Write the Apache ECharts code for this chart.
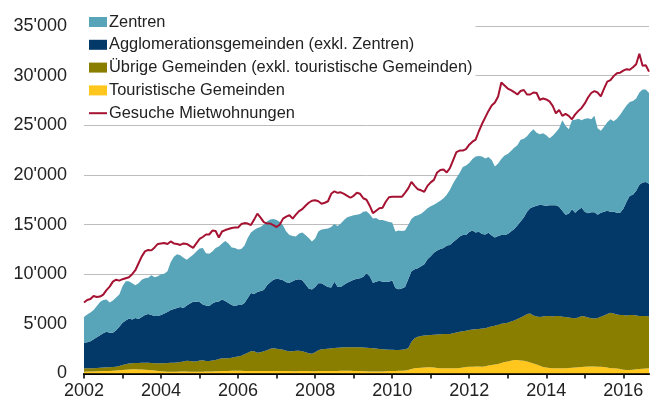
<!DOCTYPE html>
<html>
<head>
<meta charset="utf-8">
<script src="https://cdn.jsdelivr.net/npm/echarts@6/dist/echarts.min.js"></script>
<style>
html,body{margin:0;padding:0;background:#fff;}
#chart{width:650px;height:403px;}
</style>
</head>
<body>
<div id="chart"></div>
<script>
// Monthly data, Jan 2002 - Sep 2016
var startYear = 2002;
var monthCount = 177;

var yTicks = [0, 5000, 10000, 15000, 20000, 25000, 30000, 35000];

var touristische = [
180,190,200,210,220,230,240,250,260,280,300,320,
340,370,400,420,420,410,400,380,350,320,290,260,
230,200,180,180,180,180,190,190,190,180,180,180,
180,180,190,200,210,220,230,240,250,260,270,280,
280,270,260,260,250,250,240,240,240,250,250,260,
260,260,250,250,240,230,230,240,250,250,240,230,
230,240,250,250,250,260,260,260,270,270,270,270,
260,250,240,230,220,210,200,200,200,210,220,240,
250,260,270,280,300,350,450,520,560,580,600,620,
620,600,560,520,520,520,520,520,530,560,600,650,
690,690,700,700,690,730,800,860,900,960,1050,1150,
1200,1280,1350,1360,1320,1290,1200,1100,1000,900,780,650,
600,560,520,520,520,520,540,560,580,600,620,650,
690,700,700,700,690,690,650,600,540,520,500,450,
380,350,350,380,420,450,480,500,520
];

var uebrige = [
340,330,330,330,340,350,360,370,380,380,390,440,
520,550,600,610,630,660,680,710,740,750,750,770,
800,830,870,900,910,920,960,1030,1090,1070,1020,1020,
1120,1150,1080,1050,1090,1140,1220,1290,1280,1280,1310,1370,
1420,1530,1690,1840,2000,2000,1860,1910,2010,2100,2250,2280,
2240,2190,2150,2050,2010,2020,2070,2060,2000,1900,1810,1770,
1920,2110,2200,2230,2250,2280,2300,2340,2350,2370,2370,2370,
2380,2390,2400,2390,2380,2350,2340,2320,2280,2230,2200,2160,
2130,2110,2100,2120,2150,2200,2750,3030,3140,3200,3220,3240,
3260,3300,3360,3430,3460,3460,3470,3530,3590,3640,3650,3650,
3690,3730,3750,3780,3830,3830,3850,3890,3900,3940,3950,3910,
3900,3970,4000,4140,4330,4510,4800,4950,4850,4850,4920,5100,
5190,5230,5230,5280,5270,5200,5160,5090,5020,4960,5030,5140,
5060,4950,4860,4850,4910,5030,5200,5400,5580,5530,5450,5450,
5510,5500,5550,5520,5430,5350,5310,5300,5230
];

var agglomeration = [
2580,2630,2720,2910,3090,3270,3450,3580,3460,3440,3660,3940,
4240,4430,4550,4420,4550,4430,4620,4810,4900,4830,4760,4770,
4870,5020,5150,5320,5410,5500,5550,5380,5570,5800,6030,6030,
5900,5620,5580,5550,5750,5840,5800,5920,5770,5560,5320,5150,
5200,5100,5150,5500,5850,5750,6100,6150,6150,6550,6700,6910,
7050,7050,7000,6900,6900,7050,7150,7200,7150,6850,6500,6450,
6550,6750,6650,6420,6200,6110,6690,6150,6080,6310,6510,6660,
6810,6910,6960,7130,7500,7240,6610,6730,6860,6810,6830,6850,
7020,6230,6110,6150,6250,6950,7100,6950,6900,7020,7180,7640,
7920,8250,8480,8600,8670,8920,8960,9200,9380,9600,9700,9650,
9870,9980,9750,9800,9530,9440,9530,9150,8900,8950,8950,8890,
8950,9050,9200,9400,9650,9900,10300,10600,10950,11150,11300,11200,
11110,11160,11200,11150,11010,10680,10300,10450,10950,10640,10850,10910,
10550,10500,10690,10700,10400,10480,10450,10400,10180,10250,10250,10300,
10710,11450,12000,12100,12550,13200,13460,13500,13350
];

var zentren = [
2600,2800,2900,2950,3150,3350,3350,3250,3050,3250,3300,3250,
3700,3950,3750,3650,3300,3600,3750,3700,3660,4000,3900,4000,
4100,4000,4100,4800,5250,5400,5200,5050,4600,4650,4720,5070,
5400,5700,5250,5250,5250,5450,5550,5650,6050,6000,5800,5850,
5600,5650,5800,6050,6100,6450,6450,6450,6600,6400,6300,6100,
5900,5750,5500,5100,4800,4550,4350,4600,4800,4950,5100,4850,
4900,5200,5400,5650,5900,6100,5800,6100,6400,6500,6600,6550,
6480,6450,6470,6540,6250,6250,6450,6400,6110,6200,6100,6000,
5800,5700,5920,5800,5700,5450,5250,5350,5350,5300,5350,5150,
5050,4850,4800,4850,5000,5100,5550,5900,6200,6400,6850,7000,
6950,7200,7650,7620,7800,7650,7620,7600,7150,7300,7650,8000,
8050,8100,8200,8100,8250,7950,7600,7650,7800,7350,7100,7250,
7100,6750,7000,7350,7900,9100,8950,8500,8950,9350,9150,8800,
9350,9550,9350,9700,8700,8250,8550,8900,9300,9100,9450,9850,
9950,9700,9450,9450,9300,9300,9350,9300,9150
];

var gesuche = [
7150,7400,7500,7800,7700,7750,7950,8400,8750,9250,9450,9350,
9500,9600,9700,10000,10400,11100,11800,12300,12450,12400,12700,13050,
13100,13150,13050,13300,13100,13050,12950,13100,13050,12850,12650,13100,
13550,13750,14000,14000,14400,14350,13700,14300,14450,14550,14650,14700,
14700,15050,15150,15100,14950,15500,16100,15700,15250,15100,15100,14950,
14750,15000,15600,15800,15950,15600,16000,16350,16550,16900,17200,17400,
17450,17350,17100,17200,17350,18100,18350,18200,18250,18100,17900,17700,
17900,18200,18100,17650,17500,16900,16150,16400,16650,16700,17300,17750,
17800,17800,17800,17800,18200,18650,19300,18900,18550,18450,18300,18900,
19250,19500,20250,20500,20550,20250,20700,21500,22300,22450,22450,22600,
23050,23350,23550,24400,25150,25800,26450,27000,27300,27900,29300,29000,
28700,28550,28350,28100,28450,28550,28100,28100,28300,28250,27550,27700,
27600,27400,26950,26200,26550,25950,26150,25950,25600,26100,26450,26750,
27200,27800,28250,28450,28300,27900,28700,29400,29550,29950,30250,30300,
30500,30650,30600,30850,31150,32200,31000,31050,30400
];

var names = {
  zentren: 'Zentren',
  agglo: 'Agglomerationsgemeinden (exkl. Zentren)',
  uebrige: 'Übrige Gemeinden (exkl. touristische Gemeinden)',
  tour: 'Touristische Gemeinden',
  gesuche: 'Gesuche Mietwohnungen'
};

var months = [];
for (var i = 0; i < monthCount; i++) {
  var y = startYear + Math.floor(i / 12);
  var m = (i % 12) + 1;
  months.push(y + '-' + (m < 10 ? '0' + m : m));
}

var FONT = "'Liberation Sans', Arial, Helvetica, sans-serif";
var colors = {
  zentren: '#58A4B9',
  agglo: '#033968',
  uebrige: '#8A7E00',
  tour: '#FFC61E',
  gesuche: '#A51232'
};

function areaSeries(name, data, color) {
  return {
    name: name, type: 'line', stack: 'total', data: data,
    showSymbol: false, symbol: 'none', smooth: false,
    lineStyle: { width: 0, color: color },
    itemStyle: { color: color },
    areaStyle: { color: color, opacity: 1 },
    emphasis: { disabled: true },
    z: 2
  };
}

var chart = echarts.init(document.getElementById('chart'), null, { renderer: 'canvas' });
chart.setOption({
  animation: false,
  backgroundColor: '#fff',
  textStyle: { fontFamily: FONT },
  grid: { left: 84, right: 1, top: 26, bottom: 29.5, containLabel: false },
  legend: {
    orient: 'vertical',
    left: 84, top: 11,
    padding: [3, 3, 3, 5],
    backgroundColor: '#fff',
    itemWidth: 18, itemHeight: 10, itemGap: 6.8,
    textStyle: { fontFamily: FONT, fontSize: 16.4, color: '#222', lineHeight: 16, padding: [0, 0, 0, -3] },
    data: [
      { name: names.zentren, icon: 'rect' },
      { name: names.agglo, icon: 'rect' },
      { name: names.uebrige, icon: 'rect' },
      { name: names.tour, icon: 'rect' },
      { name: names.gesuche, icon: 'path://M0,0 L18,0 L18,2 L0,2 Z' }
    ],
    selectedMode: false
  },
  xAxis: {
    type: 'category',
    data: months,
    boundaryGap: false,
    axisLine: { show: true, lineStyle: { color: '#000', width: 2 } },
    axisTick: {
      show: true, length: 5, inside: false,
      interval: function (idx) { return idx % 12 === 0; },
      lineStyle: { color: '#000', width: 1.5 }
    },
    axisLabel: {
      interval: function (idx) { return idx % 24 === 0; },
      formatter: function (v) { return v.slice(0, 4); },
      fontFamily: FONT, fontSize: 18, color: '#222', margin: 9
    },
    splitLine: { show: false }
  },
  yAxis: {
    type: 'value',
    min: yTicks[0], max: yTicks[yTicks.length - 1], interval: yTicks[1] - yTicks[0],
    axisLine: { show: false },
    axisTick: { show: false },
    axisLabel: {
      fontFamily: FONT, fontSize: 18, color: '#222', margin: 17,
      formatter: function (v) { return v === 0 ? '0' : (v / 1000) + "'000"; }
    },
    splitLine: { show: true, lineStyle: { color: '#bdbdbd', width: 1 } }
  },
  series: [
    areaSeries(names.tour, touristische, colors.tour),
    areaSeries(names.uebrige, uebrige, colors.uebrige),
    areaSeries(names.agglo, agglomeration, colors.agglo),
    areaSeries(names.zentren, zentren, colors.zentren),
    {
      name: names.gesuche, type: 'line', data: gesuche,
      showSymbol: false, symbol: 'none',
      lineStyle: { width: 2, color: colors.gesuche },
      itemStyle: { color: colors.gesuche },
      emphasis: { disabled: true },
      z: 3
    }
  ]
});
</script>
</body>
</html>
